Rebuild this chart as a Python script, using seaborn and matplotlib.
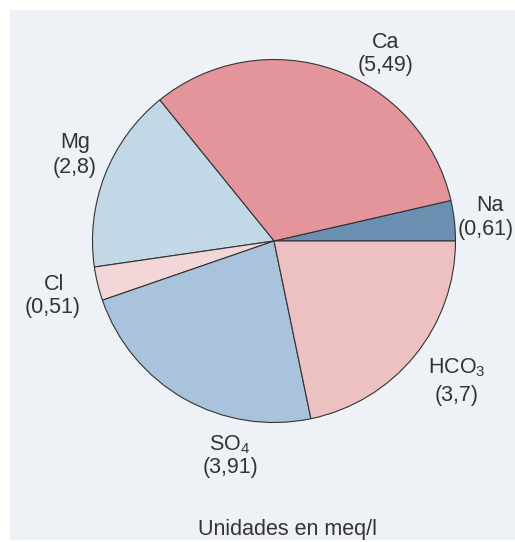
import matplotlib
matplotlib.use("Agg")
import matplotlib.pyplot as plt
import seaborn as sns
from matplotlib.patches import Rectangle

# Data
ions = ["Na", "Ca", "Mg", "Cl", "SO4", "HCO3"]
values = [0.61, 5.49, 2.8, 0.51, 3.91, 3.7]
value_labels = ["(0,61)", "(5,49)", "(2,8)", "(0,51)", "(3,91)", "(3,7)"]
ion_labels = ["Na", "Ca", "Mg", "Cl", r"SO$_\mathregular{4}$", r"HCO$_\mathregular{3}$"]
colors_hex = ["#6b8fb1", "#e4959c", "#c3d8e7", "#f3d6d7", "#a8c3db", "#edc0c2"]
footnote = "Unidades en meq/l"

sns.set_theme(style="white")
plt.rcParams["font.family"] = ["Liberation Sans", "DejaVu Sans"]
plt.rcParams["mathtext.fontset"] = "custom"
plt.rcParams["mathtext.rm"] = "Liberation Sans"
plt.rcParams["mathtext.it"] = "Liberation Sans"

W, H = 515, 542
fig = plt.figure(figsize=(W / 100, H / 100), dpi=100)
fig.patch.set_facecolor("white")

ax = fig.add_axes([0, 0, 1, 1])
ax.patch.set_alpha(0)

palette = sns.color_palette(colors_hex)
cx, cy, r = 274, H - 241, 181.5
ax.pie(values, colors=palette, startangle=0, counterclock=True,
       center=(cx, cy), radius=r, frame=True,
       wedgeprops=dict(edgecolor="#333333", linewidth=0.8))
ax.add_patch(Rectangle((10, 2), W, H - 12, facecolor="#eef2f6",
                       edgecolor="none", zorder=-5))
ax.set_xlim(0, W)
ax.set_ylim(0, H)
ax.set_aspect("equal")
ax.axis("off")

tc = "#333333"
fs = 15.5
# (x, baseline y in image pixels, horizontal alignment)
label_pos = {
    "Na": (490, 211, "center"),
    "Ca": (386, 48, "center"),
    "Mg": (75, 148, "center"),
    "Cl": (54, 290, "center"),
    "SO4": (230, 450, "center"),
    "HCO3": (457, 373, "center"),
}
value_pos = {
    "Na": (458, 229, "left"),
    "Ca": (386, 66, "center"),
    "Mg": (75, 168, "center"),
    "Cl": (53, 307, "center"),
    "SO4": (231, 467, "center"),
    "HCO3": (457, 396, "center"),
}
for ion, il, vl in zip(ions, ion_labels, value_labels):
    x, y, ha = label_pos[ion]
    ax.text(x, H - y, il, ha=ha, va="baseline", fontsize=fs, color=tc)
    x, y, ha = value_pos[ion]
    ax.text(x, H - y, vl, ha=ha, va="center", fontsize=fs, color=tc)

ax.text(287, H - 529, footnote, ha="center", va="center", fontsize=fs, color=tc)

fig.savefig("out.png", dpi=100)
